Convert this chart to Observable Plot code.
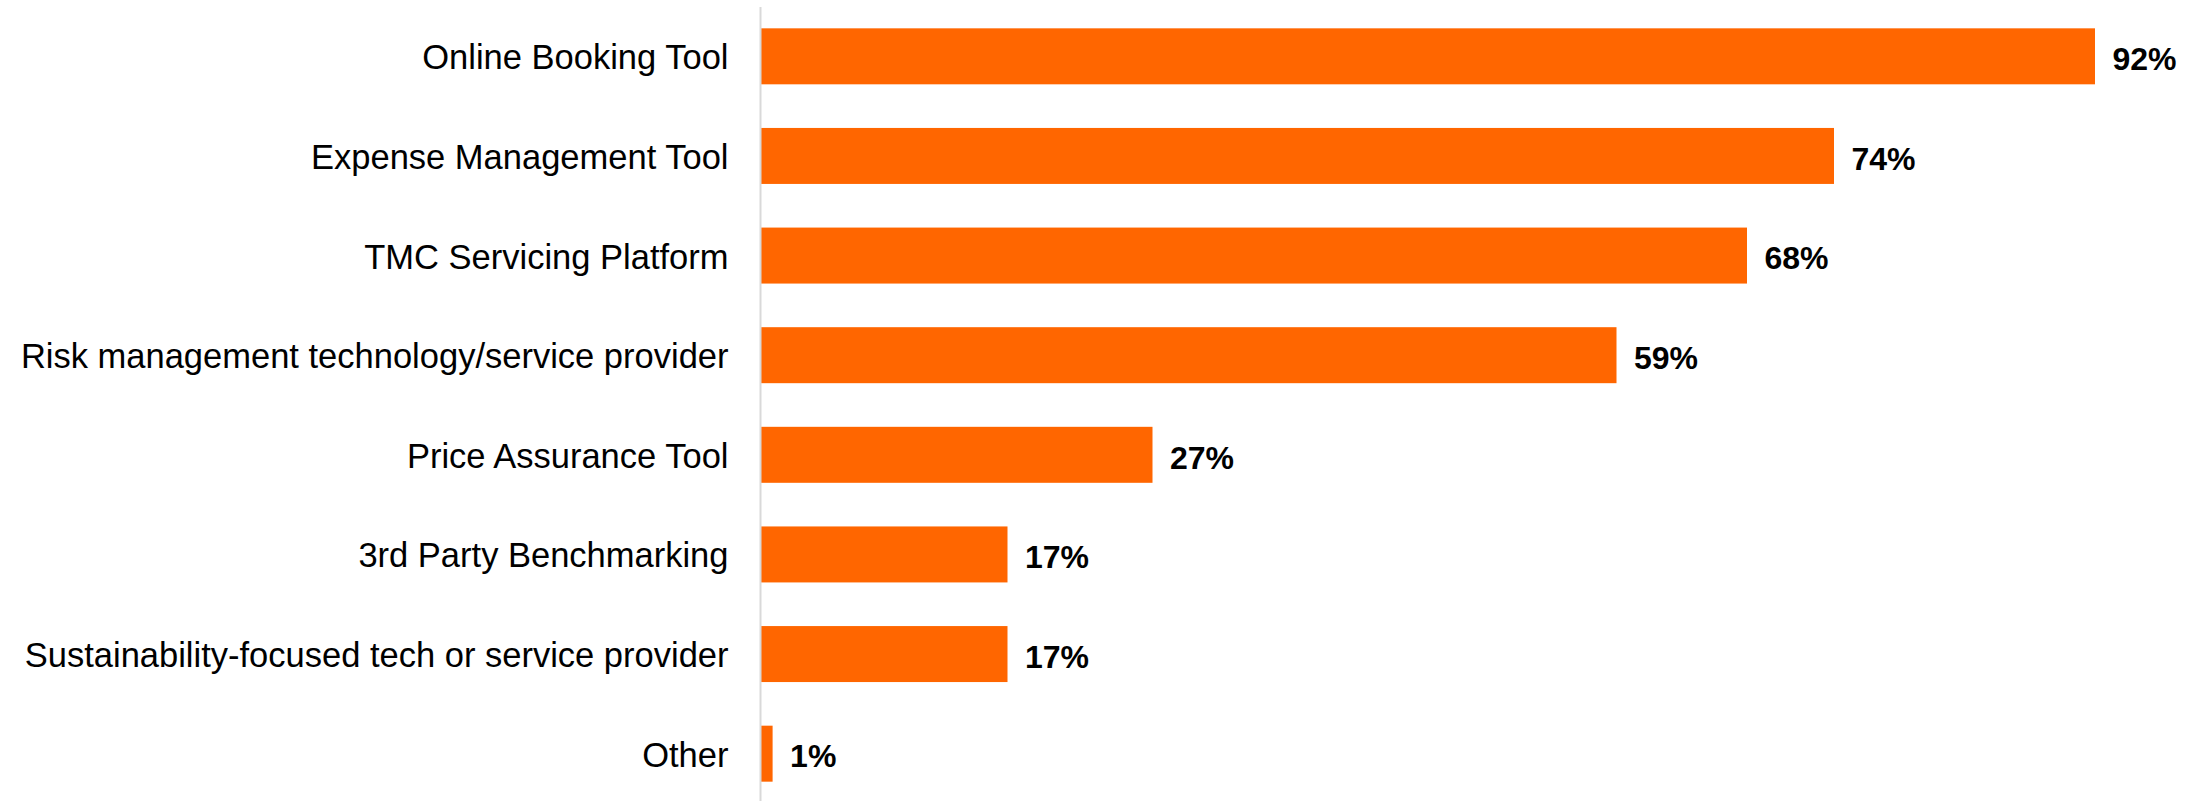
<!DOCTYPE html>
<html>
<head>
<meta charset="utf-8">
<script src="https://cdn.jsdelivr.net/npm/d3@7"></script>
<script src="https://cdn.jsdelivr.net/npm/@observablehq/plot@0.6"></script>
<style>
  html, body { margin: 0; padding: 0; background: #ffffff; }
  #chart { width: 2201px; height: 801px; }
</style>
</head>
<body>
<div id="chart"></div>
<script>
const categories = [
  "Online Booking Tool",
  "Expense Management Tool",
  "TMC Servicing Platform",
  "Risk management technology/service provider",
  "Price Assurance Tool",
  "3rd Party Benchmarking",
  "Sustainability-focused tech or service provider",
  "Other"
];
const values = [92, 74, 68, 59, 27, 17, 17, 0.8];
const labels = ["92%", "74%", "68%", "59%", "27%", "17%", "17%", "1%"];

const data = categories.map((c, i) => ({category: c, value: values[i], label: labels[i]}));

const chart = Plot.plot({
  width: 2201,
  height: 801,
  marginLeft: 761,
  marginRight: 106,
  marginTop: 9,
  marginBottom: 0,
  style: {fontFamily: "'Liberation Sans', Arial, sans-serif", background: "#ffffff", color: "#000000"},
  x: {domain: [0, 92], axis: null},
  y: {domain: categories, paddingInner: 0.438, paddingOuter: 0.194, round: false, label: null},
  marks: [
    Plot.barX(data, {y: "category", x: "value", fill: "#ff6600"}),
    Plot.ruleX([0], {stroke: "#d9d9d9", strokeWidth: 2, dx: -1, insetTop: -2}),
    Plot.axisY({tickSize: 0, tickPadding: 33, fontSize: 34.5, dy: 1.5, label: null, fill: "#000000"}),
    Plot.text(data, {y: "category", x: "value", text: "label", textAnchor: "start", dx: 17, dy: 3, fontSize: 32, fontWeight: "bold", fill: "#000000"})
  ]
});
document.getElementById("chart").appendChild(chart);
</script>
</body>
</html>
